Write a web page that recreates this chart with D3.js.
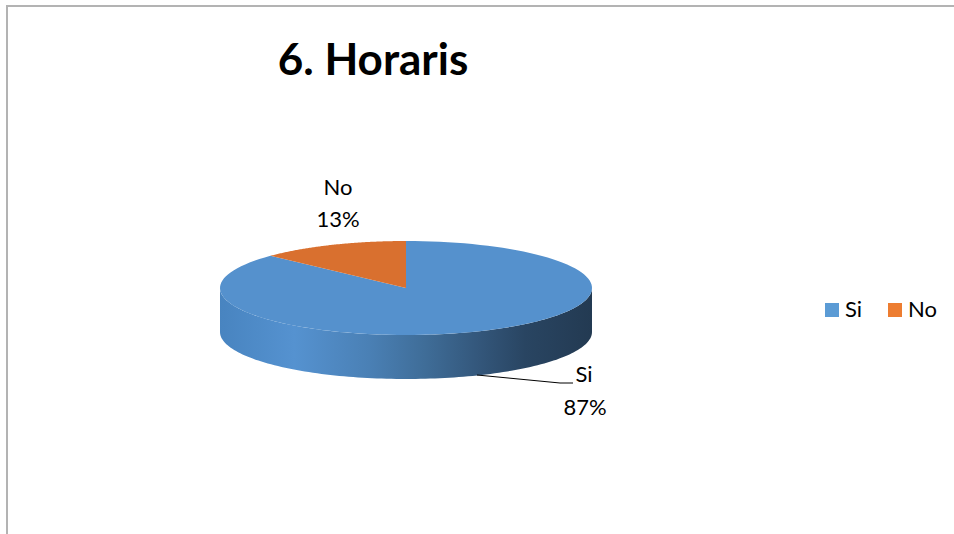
<!DOCTYPE html>
<html>
<head>
<meta charset="utf-8">
<script src="https://cdn.jsdelivr.net/npm/d3@7/dist/d3.min.js"></script>
<style>
  html, body { margin: 0; padding: 0; background: #fff; }
  svg { display: block; }
  text { font-family: "Lato", "Open Sans", "Liberation Sans", sans-serif; }
</style>
</head>
<body>
<svg id="chart" width="954" height="534"></svg>
<script>
// Survey answers for question 6
const categories = ["Si", "No"];
const percents = [87, 13];
const legendColors = ["#5b9bd5", "#ed7d31"];
const topColors = ["#5591cd", "#d9702f"];

const svg = d3.select("#chart");

// outer frame
svg.append("path")
  .attr("d", "M7,534 V6 H954")
  .attr("fill", "none")
  .attr("stroke", "#b3b3b3")
  .attr("stroke-width", 2);

// title
svg.append("text")
  .attr("x", 373).attr("y", 75)
  .attr("text-anchor", "middle")
  .attr("font-size", 44)
  .attr("font-weight", "bold")
  .attr("fill", "#000")
  .text("6. Horaris");

// 3D pie geometry
const cx = 406, cy = 288, rx = 186, ry = 47, depth = 44;

// pie layout: angles measured clockwise from 12 o'clock,
// "Si" first so "No" ends back at the top
const pie = d3.pie().sort(null).startAngle(0).endAngle(2 * Math.PI);
const arcs = pie(percents).map((d, i) => ({ a0: d.startAngle, a1: d.endAngle, i }));

const px = a => cx + rx * Math.sin(a);
const py = a => cy - ry * Math.cos(a);
const N = 120;
const sample = (a0, a1) => d3.range(N + 1).map(k => a0 + (a1 - a0) * k / N);

// shading for the outer wall, dark toward the right
const defs = svg.append("defs");
const grad = defs.append("linearGradient")
  .attr("id", "wall").attr("gradientUnits", "userSpaceOnUse")
  .attr("x1", cx - rx).attr("x2", cx + rx).attr("y1", 0).attr("y2", 0);
[[0, "#4884c0"], [0.2, "#5592d0"], [0.4, "#4a80b5"], [0.55, "#3f6d98"],
 [0.7, "#33567a"], [0.82, "#294562"], [1, "#233a52"]]
  .forEach(([o, c]) => grad.append("stop").attr("offset", o).attr("stop-color", c));

const line = d3.line();

// front walls: the part of each slice whose rim faces the viewer
const frontLo = Math.PI / 2, frontHi = 3 * Math.PI / 2;
arcs.forEach(d => {
  for (const off of [-2 * Math.PI, 0, 2 * Math.PI]) {
    const lo = Math.max(d.a0 + off, frontLo), hi = Math.min(d.a1 + off, frontHi);
    if (hi > lo) {
      const ts = sample(lo, hi);
      const pts = ts.map(a => [px(a), py(a)])
        .concat(ts.slice().reverse().map(a => [px(a), py(a) + depth]));
      svg.append("path")
        .attr("d", line(pts) + "Z")
        .attr("fill", d.i === 0 ? "url(#wall)" : d3.color(topColors[d.i]).darker(0.8));
    }
  }
});

// top faces
arcs.forEach(d => {
  const pts = [[cx, cy]].concat(sample(d.a0, d.a1).map(a => [px(a), py(a)]));
  svg.append("path")
    .attr("d", line(pts) + "Z")
    .attr("fill", topColors[d.i]);
});

// data labels
const fmt = v => v + "%";
const fs = 22;
svg.append("text").attr("x", 338).attr("y", 195).attr("text-anchor", "middle")
  .attr("font-size", fs).attr("fill", "#000").text(categories[1]);
svg.append("text").attr("x", 338).attr("y", 227).attr("text-anchor", "middle")
  .attr("font-size", fs).attr("fill", "#000").text(fmt(percents[1]));

svg.append("path")
  .attr("d", line([[477, 375], [560, 383], [573, 383]]))
  .attr("fill", "none").attr("stroke", "#000").attr("stroke-width", 1);
svg.append("text").attr("x", 584).attr("y", 382).attr("text-anchor", "middle")
  .attr("font-size", fs).attr("fill", "#000").text(categories[0]);
svg.append("text").attr("x", 585).attr("y", 415).attr("text-anchor", "middle")
  .attr("font-size", fs).attr("fill", "#000").text(fmt(percents[0]));

// legend
const legend = svg.append("g");
const lx = d3.scalePoint().domain(categories).range([825, 888]);
categories.forEach((c, i) => {
  legend.append("rect")
    .attr("x", lx(c)).attr("y", 303)
    .attr("width", 14).attr("height", 14)
    .attr("fill", legendColors[i]);
  legend.append("text")
    .attr("x", lx(c) + 20).attr("y", 317)
    .attr("font-size", fs).attr("fill", "#000").text(c);
});
</script>
</body>
</html>
